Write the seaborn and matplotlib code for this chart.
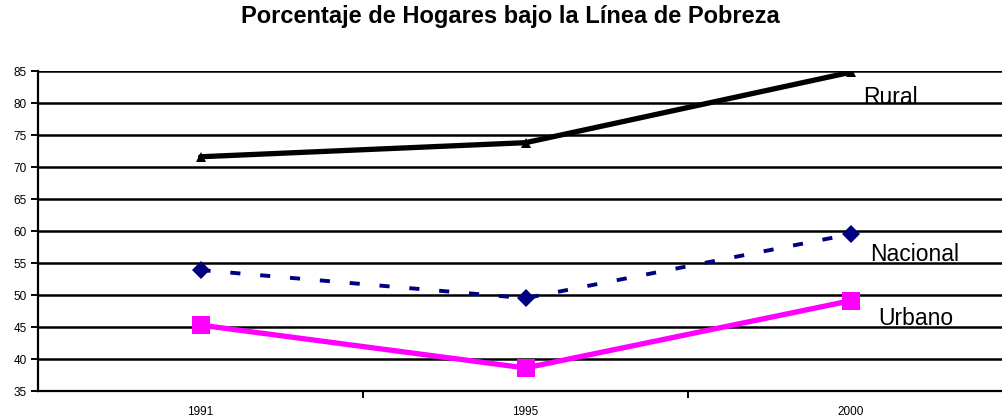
import matplotlib
matplotlib.use("Agg")
import matplotlib.pyplot as plt
import seaborn as sns
import pandas as pd
import numpy as np

# ─── Data ─────────────────────────────────────────────
years = ["1991", "1995", "2000"]
rural = [71.6, 73.8, 84.8]
nacional = [53.9, 49.5, 59.5]
urbano = [45.3, 38.6, 49.1]

series = {"Rural": rural, "Nacional": nacional, "Urbano": urbano}

sns.set_style("white")
plt.rcParams["font.family"] = ["Liberation Sans", "DejaVu Sans"]
plt.rcParams["text.color"] = "black"
plt.rcParams["xtick.color"] = "black"
plt.rcParams["ytick.color"] = "black"

df = pd.DataFrame(
    [(name, y, v) for name, vals in series.items() for y, v in zip(years, vals)],
    columns=["serie", "anio", "valor"],
)

fig = plt.figure(figsize=(10.03, 4.17), dpi=100)
ax = fig.add_axes([38 / 1003, 1 - 391 / 417, 975 / 1003, 320 / 417])

styles = {
    "Rural": dict(color="black", lw=3.8, marker="^", ms=7, dashes=None),
    "Nacional": dict(color="#000080", lw=2.8, marker="D", ms=9, dashes=(2.6, 5.1)),
    "Urbano": dict(color="#ff00ff", lw=3.8, marker="s", ms=13, dashes=None),
}

for name, st in styles.items():
    sub = df[df["serie"] == name]
    sns.lineplot(
        data=sub, x="anio", y="valor", ax=ax, color=st["color"],
        linewidth=st["lw"], marker=st["marker"], markersize=st["ms"],
        markeredgewidth=0, legend=False, sort=False,
    )
    if st["dashes"]:
        ax.lines[-1].set_dashes(st["dashes"])

# series labels to the right of last point
label_pos = {"Rural": (2.04, 80.8), "Nacional": (2.06, 56.4), "Urbano": (2.085, 46.4)}
for name, (lx, ly) in label_pos.items():
    ax.text(lx, ly, name, fontsize=16.5, ha="left", va="center", color="black")

ax.set_ylim(35, 85)
ax.set_yticks(np.arange(35, 86, 5))
ax.set_xlim(-0.5, 2.5)
ax.set_xticks([0, 1, 2])
ax.set_xticks([0.5, 1.5, 2.5], minor=True)

ax.grid(axis="y", color="black", linewidth=1.8)
ax.set_axisbelow(True)

for s in ["top", "right"]:
    ax.spines[s].set_visible(False)
for s in ["left", "bottom"]:
    ax.spines[s].set_color("black")
    ax.spines[s].set_linewidth(1.6)

ax.tick_params(axis="y", which="major", direction="out", length=5, width=1.4,
               labelsize=8.5, left=True, pad=3)
ax.tick_params(axis="x", which="major", length=0, labelsize=8.5, pad=11)
ax.tick_params(axis="x", which="minor", direction="out", length=5, width=1.4,
               bottom=True)
ax.set_xlabel("")
ax.set_ylabel("")

fig.suptitle("Porcentaje de Hogares bajo la Línea de Pobreza",
             x=510 / 1003, y=1 - 17 / 417, va="center", fontsize=17,
             fontweight="bold", color="black")

fig.savefig("out.png", dpi=100, facecolor="white")
